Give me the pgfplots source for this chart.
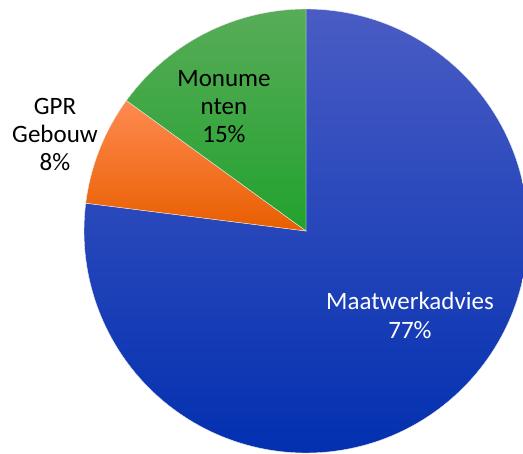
\documentclass[border=0pt]{standalone}
\usepackage{pgfplots}
\pgfplotsset{compat=1.18}
\usepackage{fontspec}
\setmainfont{Carlito}
\definecolor{bluetop}{HTML}{4A5CC4}
\definecolor{bluemid}{HTML}{0A36B6}
\definecolor{bluebot}{HTML}{0230B0}
\definecolor{orangetop}{HTML}{FF8A50}
\definecolor{orangemid}{HTML}{FF7214}
\definecolor{orangebot}{HTML}{E85E00}
\definecolor{greentop}{HTML}{58AC58}
\definecolor{greenmid}{HTML}{2AA636}
\definecolor{greenbot}{HTML}{22A22E}

% slice: cumulative percent before, percent, top, middle, bottom colour
\newcommand{\slice}[5]{%
  \shade[top color=#3, middle color=#4, bottom color=#5,
         draw=white!85!gray, line width=0.4bp]
    (axis cs:0,0) -- (axis cs:{222*cos(90-3.6*#1)},{222*sin(90-3.6*#1)})
    arc[start angle={90-3.6*#1}, end angle={90-3.6*(#1+#2)}, radius=222] -- cycle;
}

\begin{document}
\begin{tikzpicture}
\begin{axis}[
    width=523bp, height=454bp,
    scale only axis,
    hide axis,
    xmin=-306, xmax=217,
    ymin=-223, ymax=231,
    clip mode=global,
]
% Maatwerkadvies 77, GPR Gebouw 8, Monumenten 15
\slice{0}{77}{bluetop}{bluemid}{bluebot}
\slice{77}{8}{orangetop}{orangemid}{orangebot}
\slice{85}{15}{greentop}{greenmid}{greenbot}

\node[align=center, font=\fontsize{25bp}{29bp}\selectfont, text=white]
  at (axis cs:104,-84) {Maatwerkadvies\\77\%};
\node[align=center, font=\fontsize{25bp}{28bp}\selectfont]
  at (axis cs:-251,97) {GPR\\Gebouw\\8\%};
\node[align=center, font=\fontsize{25bp}{28bp}\selectfont]
  at (axis cs:-82,124) {Monume\\nten\\15\%};
\end{axis}
\pgfresetboundingbox
\useasboundingbox (current axis.south west) rectangle (current axis.north east);
\end{tikzpicture}
\end{document}
